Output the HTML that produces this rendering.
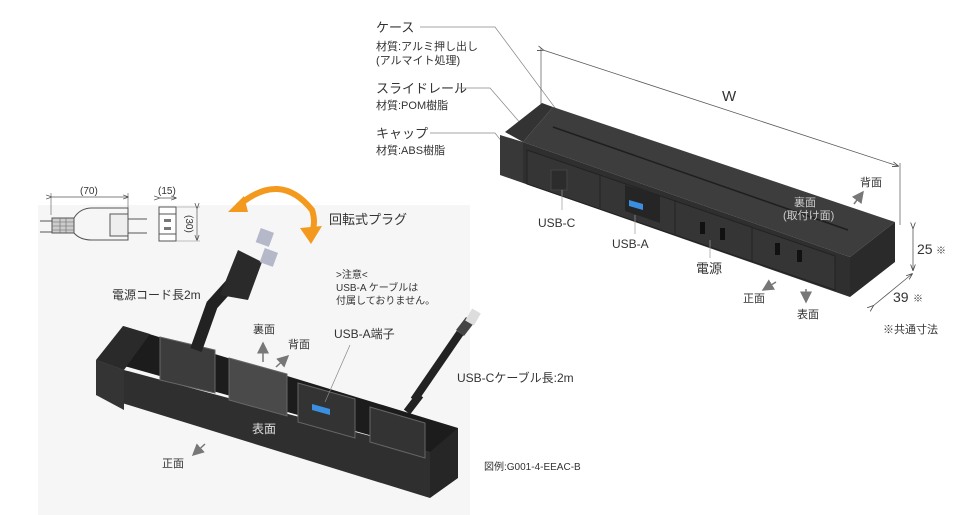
<!DOCTYPE html>
<html><head><meta charset="utf-8"><style>
html,body{margin:0;padding:0;background:#fff;}
svg{display:block;}
text{font-family:"Liberation Sans","Noto Sans CJK JP",sans-serif;fill:#333;}
</style></head><body>
<svg width="964" height="515" viewBox="0 0 964 515">
<defs>
<marker id="ar" markerWidth="8" markerHeight="8" refX="7" refY="4" orient="auto"><path d="M0,0 L8,4 L0,8 z" fill="#777"/></marker>
<marker id="dm" markerWidth="8" markerHeight="8" refX="7" refY="4" orient="auto"><path d="M0,1 L8,4 L0,7" fill="none" stroke="#444"/></marker>
</defs>
<rect x="38" y="205" width="432" height="310" fill="#f6f6f6"/>

<!-- top-left labels -->
<text x="376" y="32" font-size="13">ケース</text>
<text x="376" y="50" font-size="11">材質:アルミ押し出し</text>
<text x="376" y="64" font-size="11">(アルマイト処理)</text>
<text x="376" y="93" font-size="13">スライドレール</text>
<text x="376" y="109" font-size="11">材質:POM樹脂</text>
<text x="376" y="138" font-size="13">キャップ</text>
<text x="376" y="154" font-size="11">材質:ABS樹脂</text>
<polyline points="420,27 495,27 570,128" fill="none" stroke="#888" stroke-width="0.7"/>
<polyline points="458,88 490,88 522,125" fill="none" stroke="#888" stroke-width="0.7"/>
<polyline points="430,133 495,133 510,152" fill="none" stroke="#888" stroke-width="0.7"/>

<!-- W dimension -->
<line x1="541" y1="48" x2="541" y2="104" stroke="#555" stroke-width="0.7"/>
<line x1="900" y1="163" x2="900" y2="225" stroke="#555" stroke-width="0.7"/>
<line x1="543" y1="50" x2="898" y2="166" stroke="#555" stroke-width="0.8" marker-start="url(#dm)" marker-end="url(#dm)"/>
<text x="722" y="101" font-size="15">W</text>

<!-- top-right bar -->
<polygon points="523,142 553,107 895,222 850,257" fill="#3d3d3d"/>
<polygon points="505,132 542,103 553,107 523,142" fill="#333"/>
<polygon points="500,135 523,142 523,183 500,175" fill="#383838"/>
<polygon points="523,142 850,257 850,297 523,183" fill="#2f2f2f"/>
<polygon points="850,257 895,222 895,262 850,297" fill="#2a2a2a"/>
<polygon points="527,150 835,256 835,290 527,184" fill="#353535" stroke="#222"/>
<line x1="553" y1="127" x2="848" y2="230" stroke="#1e1e1e" stroke-width="1.5"/>
<line x1="600" y1="175" x2="600" y2="208" stroke="#222"/>
<line x1="675" y1="200" x2="675" y2="234" stroke="#222"/>
<line x1="752" y1="227" x2="752" y2="262" stroke="#222"/>
<polygon points="625,185 660,196 660,223 625,211" fill="#252525"/>
<polygon points="629,200 643,204 643,210 629,206" fill="#3a8fe0"/>
<rect x="551" y="170" width="16" height="20" fill="#2c2c2c" stroke="#444"/>
<line x1="562" y1="190" x2="562" y2="210" stroke="#999" stroke-width="0.7"/>
<line x1="635" y1="215" x2="635" y2="234" stroke="#999" stroke-width="0.7"/>
<line x1="710" y1="240" x2="710" y2="258" stroke="#999" stroke-width="0.7"/>
<text x="538" y="227" font-size="12">USB-C</text>
<text x="612" y="248" font-size="12">USB-A</text>
<text x="696" y="273" font-size="13">電源</text>
<rect x="700" y="222" width="5" height="12" fill="#111"/><rect x="720" y="228" width="5" height="12" fill="#111"/>
<rect x="775" y="243" width="5" height="12" fill="#111"/><rect x="797" y="250" width="5" height="12" fill="#111"/>
<text x="794" y="206" font-size="11" style="fill:#ccc">裏面</text>
<text x="783" y="219" font-size="11" style="fill:#ccc">(取付け面)</text>
<text x="860" y="186" font-size="11">背面</text>
<line x1="854" y1="204" x2="863" y2="192" stroke="#777" stroke-width="1.5" marker-end="url(#ar)"/>
<line x1="776" y1="282" x2="763" y2="290" stroke="#777" stroke-width="1.5" marker-end="url(#ar)"/>
<text x="743" y="302" font-size="11">正面</text>
<line x1="806" y1="289" x2="806" y2="302" stroke="#777" stroke-width="1.5" marker-end="url(#ar)"/>
<text x="797" y="318" font-size="11">表面</text>
<line x1="913" y1="228" x2="913" y2="270" stroke="#555" stroke-width="0.8" marker-start="url(#dm)" marker-end="url(#dm)"/>
<text x="917" y="254" font-size="14">25</text><text x="936" y="254" font-size="10">※</text>
<line x1="873" y1="306" x2="912" y2="274" stroke="#555" stroke-width="0.8" marker-start="url(#dm)" marker-end="url(#dm)"/>
<text x="893" y="302" font-size="14">39</text><text x="913" y="302" font-size="10">※</text>
<text x="883" y="333" font-size="11">※共通寸法</text>

<!-- plug drawing -->
<text x="80" y="194" font-size="10">(70)</text>
<line x1="51" y1="197" x2="128" y2="197" stroke="#555" stroke-width="0.7" marker-start="url(#dm)" marker-end="url(#dm)"/>
<line x1="51" y1="193" x2="51" y2="215" stroke="#555" stroke-width="0.6"/>
<line x1="128" y1="193" x2="128" y2="210" stroke="#555" stroke-width="0.6"/>
<path d="M40,221 H52 M40,232 H52" stroke="#555" fill="none"/>
<rect x="52" y="218" width="22" height="15" fill="#ccc" stroke="#555"/>
<path d="M52,222 H74 M52,226 H74 M52,230 H74 M60,218 V233 M66,218 V233" stroke="#666" stroke-width="0.6"/>
<path d="M74,218 Q80,208 92,208 H128 V240 H92 Q80,240 74,233" fill="none" stroke="#555"/>
<rect x="110" y="214" width="18" height="22" fill="#eee" stroke="#555"/>
<line x1="128" y1="219" x2="147" y2="219" stroke="#555"/><line x1="128" y1="233" x2="147" y2="233" stroke="#555"/>
<text x="158" y="194" font-size="10">(15)</text>
<line x1="159" y1="198" x2="176" y2="198" stroke="#555" stroke-width="0.7" marker-start="url(#dm)" marker-end="url(#dm)"/>
<rect x="159" y="207" width="17" height="34" fill="#fff" stroke="#555"/>
<line x1="159" y1="214" x2="176" y2="214" stroke="#555"/><line x1="159" y1="234" x2="176" y2="234" stroke="#555"/>
<rect x="164" y="219" width="7" height="3" fill="#777"/><rect x="164" y="227" width="7" height="3" fill="#777"/>
<line x1="176" y1="207" x2="200" y2="207" stroke="#888" stroke-width="0.5"/>
<line x1="176" y1="241" x2="200" y2="241" stroke="#888" stroke-width="0.5"/>
<line x1="197" y1="208" x2="197" y2="240" stroke="#555" stroke-width="0.7" marker-start="url(#dm)" marker-end="url(#dm)"/>
<text x="186" y="215" font-size="10" transform="rotate(90 186 215)">(30)</text>

<!-- orange arrow -->
<path d="M238,206 Q280,170 312,210 Q316,222 312,232" fill="none" stroke="#f39a1e" stroke-width="6"/>
<polygon points="228,212 244,196 248,212" fill="#f39a1e"/>
<polygon points="300,228 322,226 311,244" fill="#f39a1e"/>
<text x="329" y="224" font-size="13">回転式プラグ</text>

<!-- lower bar -->
<polygon points="123,326 458,428 440,455 110,362" fill="#1c1c1c"/>
<polygon points="96,360 123,326 150,334 124,370" fill="#2a2a2a"/>
<polygon points="96,360 124,370 430,452 430,498 96,395" fill="#2f2f2f"/>
<polygon points="96,360 124,370 124,410 96,395" fill="#343434"/>
<polygon points="430,452 458,428 458,478 430,498" fill="#262626"/>
<polygon points="160,337 215,350 215,393 160,380" fill="#3c3c3c" stroke="#666"/>
<polygon points="229,358 287,374 287,416 229,400" fill="#4a4a4a" stroke="#666"/>
<polygon points="298,383 355,399 355,438 298,422" fill="#333" stroke="#666"/>
<polygon points="312,404 330,409 330,415 312,410" fill="#3a8fe0"/>
<polygon points="370,407 425,423 425,458 370,442" fill="#333" stroke="#666"/>
<text x="252" y="433" font-size="12" style="fill:#ddd">表面</text>
<line x1="205" y1="444" x2="193" y2="455" stroke="#777" stroke-width="1.5" marker-end="url(#ar)"/>
<text x="162" y="467" font-size="11">正面</text>
<!-- cords -->
<path d="M196,350 L212,305 L230,285" stroke="#222" stroke-width="12" fill="none"/>
<path d="M220,295 L238,250 L262,262 L248,300 z" fill="#2a2a2a"/>
<rect x="258" y="230" width="14" height="15" fill="#b5b8c8" transform="rotate(20 265 237)"/>
<rect x="262" y="250" width="14" height="15" fill="#b5b8c8" transform="rotate(20 269 257)"/>
<path d="M407,412 L420,395" stroke="#222" stroke-width="8" fill="none"/>
<path d="M414,400 L460,333" stroke="#222" stroke-width="8" fill="none"/>
<path d="M460,333 L470,320" stroke="#444" stroke-width="10" fill="none"/>
<rect x="468" y="310" width="10" height="14" fill="#ddd" transform="rotate(30 473 317)"/>
<text x="112" y="299" font-size="12">電源コード長2m</text>
<text x="336" y="278" font-size="10">&gt;注意&lt;</text>
<text x="336" y="291" font-size="10">USB-A ケーブルは</text>
<text x="336" y="304" font-size="10">付属しておりません。</text>
<text x="253" y="333" font-size="11">裏面</text>
<line x1="263" y1="362" x2="263" y2="343" stroke="#777" stroke-width="1.5" marker-end="url(#ar)"/>
<text x="288" y="348" font-size="11">背面</text>
<line x1="276" y1="367" x2="288" y2="356" stroke="#777" stroke-width="1.5" marker-end="url(#ar)"/>
<text x="334" y="338" font-size="12">USB-A端子</text>
<line x1="350" y1="345" x2="325" y2="402" stroke="#888" stroke-width="0.7"/>
<text x="457" y="382" font-size="12">USB-Cケーブル長:2m</text>
<text x="484" y="470" font-size="10">図例:G001-4-EEAC-B</text>
</svg>
</body></html>
